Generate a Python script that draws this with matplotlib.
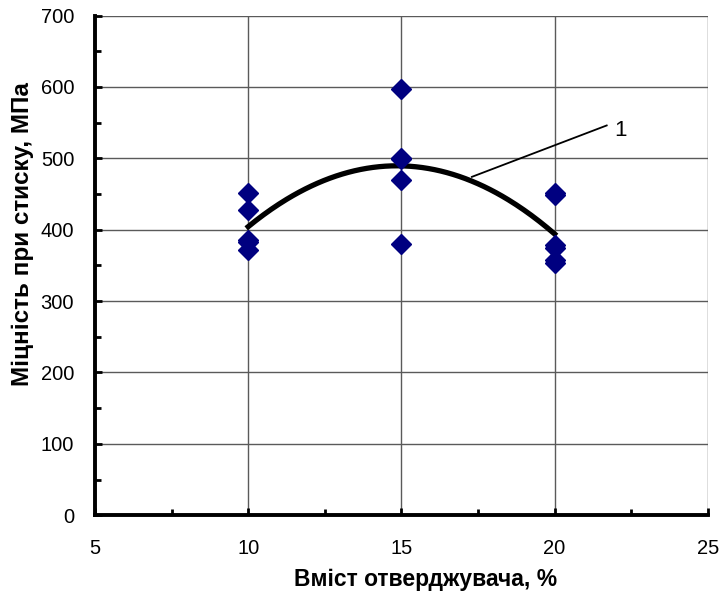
import numpy as np
import matplotlib as mpl
mpl.use('Agg')
import matplotlib.pyplot as plt
from matplotlib.ticker import MultipleLocator

# Дані: вміст отверджувача (%) та міцність при стиску (МПа)
x_10 = [10, 10, 10, 10, 10]
y_10 = [452, 428, 386, 383, 372]
x_15 = [15, 15, 15, 15, 15]
y_15 = [597, 501, 499, 470, 380]
x_20 = [20, 20, 20, 20, 20, 20]
y_20 = [451, 449, 378, 374, 358, 354]

x_all = np.array(x_10 + x_15 + x_20, dtype=float)
y_all = np.array(y_10 + y_15 + y_20, dtype=float)

# Поліноміальна лінія тренду 2-го порядку
coef = np.polyfit(x_all, y_all, 2)
x_fit = np.linspace(10, 20, 200)
y_fit = np.polyval(coef, x_fit)

plt.rcParams['font.family'] = ['Liberation Sans', 'DejaVu Sans']

fig = plt.figure(figsize=(7.23, 5.97), dpi=100)
ax = fig.add_axes([0.1314, 0.137, 0.8476, 0.837])

ax.grid(True, color='#5a5a5a', linewidth=1.0)
ax.set_axisbelow(True)

ax.plot(x_fit, y_fit, color='black', linewidth=3.8, zorder=3)
ax.plot(x_all, y_all, linestyle='none', marker='D', markersize=10,
        color='#000080', zorder=4)

# Підпис кривої
ax.plot([17.3, 21.7], [474, 546], color='black', linewidth=1.3, zorder=3)
ax.text(21.95, 539, '1', fontsize=16, va='center', ha='left')

ax.set_xlim(5, 25)
ax.set_ylim(0, 700)
ax.xaxis.set_major_locator(MultipleLocator(5))
ax.xaxis.set_minor_locator(MultipleLocator(2.5))
ax.yaxis.set_major_locator(MultipleLocator(100))
ax.yaxis.set_minor_locator(MultipleLocator(50))

for side in ['top', 'right']:
    ax.spines[side].set_visible(False)
for side in ['left', 'bottom']:
    ax.spines[side].set_linewidth(2.8)
    ax.spines[side].set_color('black')

ax.tick_params(which='both', direction='in', color='black', width=2)
ax.tick_params(which='major', length=5, labelsize=14.5)
ax.tick_params(axis='x', which='major', pad=17)
ax.tick_params(axis='y', which='major', pad=15)
ax.tick_params(which='minor', length=4)

ax.set_xlabel('Вміст отверджувача, %', fontsize=16.5, fontweight='bold')
ax.set_ylabel('Міцність при стиску, МПа', fontsize=17.5, fontweight='bold')
ax.xaxis.set_label_coords(0.54, -0.106)
ax.yaxis.set_label_coords(-0.10, 0.562)

fig.savefig('out.png', dpi=100)
